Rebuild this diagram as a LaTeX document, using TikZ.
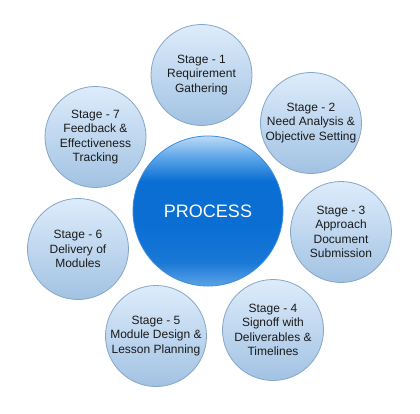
\documentclass[tikz,border=0pt]{standalone}
\usepackage{fontspec}
\setmainfont{Liberation Sans}
\definecolor{otop}{HTML}{DDECFB}
\definecolor{obot}{HTML}{A2C2E3}
\definecolor{oedge}{HTML}{86A6C6}
\definecolor{ctop}{HTML}{BCDAF6}
\definecolor{cup}{HTML}{5EA6E8}
\definecolor{cmid}{HTML}{0A6ED3}
\definecolor{clow}{HTML}{1A78D6}
\definecolor{cbot}{HTML}{5AA3E6}
\definecolor{cedge}{HTML}{3A8CDC}
\definecolor{txt}{HTML}{1A1A1A}
\pgfdeclareverticalshading{coreshade}{100bp}{color(0bp)=(cbot); color(25bp)=(cbot); color(33bp)=(clow); color(45bp)=(cmid); color(60bp)=(cmid); color(68bp)=(cup); color(75bp)=(ctop); color(100bp)=(ctop)}
\tikzset{
  stage/.style={circle, minimum size=101pt, inner sep=0pt, draw=oedge, line width=0.8pt,
    top color=otop, bottom color=obot, align=center, text=txt,
    font=\fontsize{12}{14.3}\selectfont},
  core/.style={circle, minimum size=150pt, inner sep=0pt, draw=cedge, line width=0.8pt,
    shading=coreshade, text=white,
    font=\fontsize{18}{20}\selectfont}
}
\begin{document}
\begin{tikzpicture}[x=1pt,y=-1pt]
\useasboundingbox (0,0) rectangle (420,414);
\fill[white] (0,0) rectangle (420,414);
\node[core] (p) at (208,211) {PROCESS};
\node[stage] (s1) at (201.5,75) {Stage - 1\\Requirement\\Gathering};
\node[stage] (s2) at (311,123) {Stage - 2\\Need Analysis \&\\Objective Setting};
\node[stage] (s3) at (341,232) {Stage - 3\\Approach\\Document\\Submission};
\node[stage] (s4) at (273,330) {Stage - 4\\Signoff with\\Deliverables \&\\Timelines};
\node[stage] (s5) at (156,336) {Stage - 5\\Module Design \&\\Lesson Planning};
\node[stage] (s6) at (78,249) {Stage - 6\\Delivery of\\Modules};
\node[stage] (s7) at (95.5,137) {Stage - 7\\Feedback \&\\Effectiveness\\Tracking};
\end{tikzpicture}
\end{document}
